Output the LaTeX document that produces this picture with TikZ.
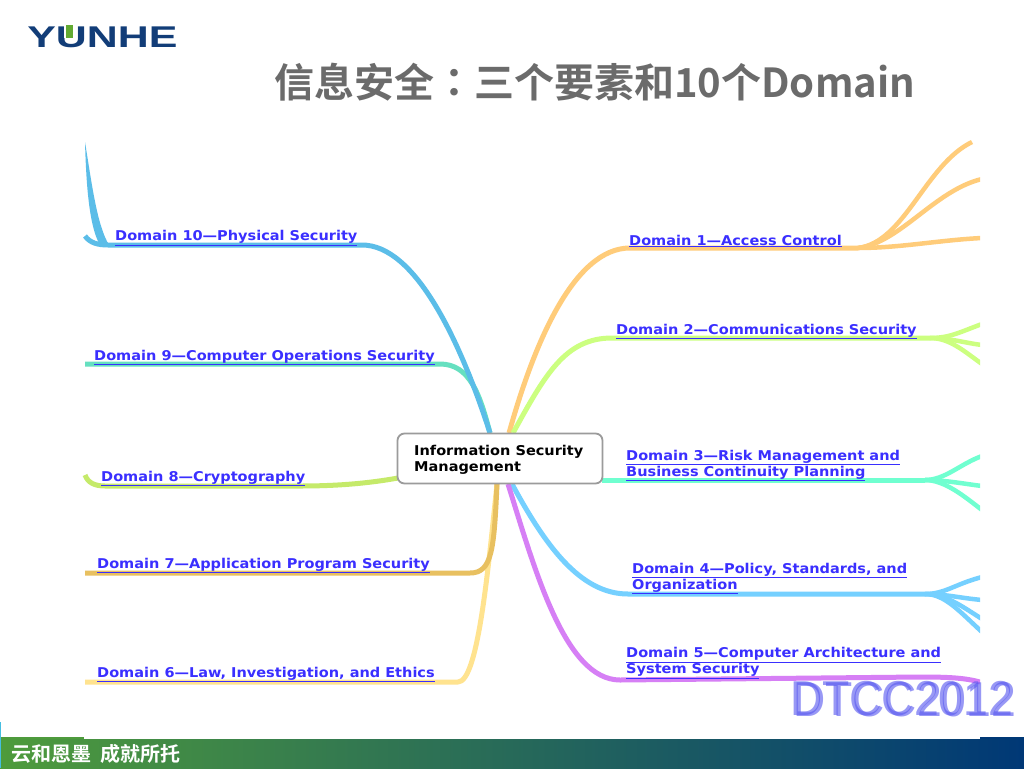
\documentclass[tikz,border=0pt]{standalone}
\usepackage{fontspec}
\setmainfont{DejaVu Sans}
\newfontfamily\cjkb[BoldFont={Noto Sans CJK SC Bold}]{Noto Sans CJK SC}
\newfontfamily\cjkt[BoldFont={Noto Sans CJK TC Bold}]{Noto Sans CJK TC}
\newfontfamily\lsans{Liberation Sans}
\definecolor{cTen}{HTML}{5BBDE8}
\definecolor{cNine}{HTML}{66E0C0}
\definecolor{cEight}{HTML}{C5EA6A}
\definecolor{cSeven}{HTML}{E8C060}
\definecolor{cSix}{HTML}{FFE38F}
\definecolor{cFive}{HTML}{D67FF5}
\definecolor{cFour}{HTML}{75D0FF}
\definecolor{cThree}{HTML}{70FFD0}
\definecolor{cTwo}{HTML}{CCFF80}
\definecolor{cOne}{HTML}{FFCC7A}
\definecolor{lnk}{HTML}{3A2FFF}
\definecolor{dtcc}{HTML}{5A5AF0}
\definecolor{logoblue}{HTML}{123D78}
\definecolor{logogreen}{HTML}{62AA32}
\definecolor{titlegray}{HTML}{6B6B6B}
\definecolor{nodegray}{HTML}{9B9B9B}
\definecolor{barL}{HTML}{4E9B3C}
\definecolor{barM}{HTML}{266E5A}
\definecolor{barR}{HTML}{003876}
\definecolor{stripe}{HTML}{46BEE1}
\newcommand{\dl}[1]{\underline{#1}}
\tikzset{
  branch/.style={line width=5pt,line cap=butt,line join=round},
  twig/.style={line width=4.5pt,line cap=butt},
  lab/.style={anchor=west,inner sep=0pt,text=lnk,font=\fontsize{13.5}{16}\selectfont\bfseries,align=left,xscale=1.075,transform shape},
  dtccmark/.style={anchor=west,inner sep=0pt,text=dtcc,opacity=.62,font=\fontsize{49}{49}\selectfont\lsans,xscale=.91,transform shape},
}
\begin{document}
\begin{tikzpicture}[x=1pt,y=-1pt]
\useasboundingbox (0,0) rectangle (1024,768);
\fill[white] (0,0) rectangle (1024,768);
% logo
\node[anchor=west,inner sep=0pt,text=logoblue,font=\fontsize{30}{30}\selectfont\lsans\bfseries,xscale=1.43,transform shape] (logo) at (27,37) {YUNHE};
\fill[white] (64,24) rectangle (75,38.5);
\fill[logogreen] (65.5,25) rectangle (73,38);
% title
\node[anchor=west,inner sep=0pt,text=titlegray,font=\fontsize{40}{40}\selectfont\cjkb\bfseries] (title) at (274,82) {信息安全{\cjkt\bfseries ：}三个要素和10个Domain};
\coordinate (s10) at (490,433);
\coordinate (s9) at (490,433);
\coordinate (s8) at (398,478);
\coordinate (s7) at (497,484);
\coordinate (s6) at (497,484);
\coordinate (s5) at (508,484);
\coordinate (s4) at (512,484);
\coordinate (s3) at (602,480);
\coordinate (s2) at (513,433);
\coordinate (s1) at (509,433);
\coordinate (e10a) at (85,236);
\coordinate (e10b) at (85,142);
\coordinate (e9) at (85,364);
\coordinate (e8) at (85,475);
\coordinate (e7) at (85,573);
\coordinate (e6) at (85,682);
\coordinate (e5) at (980,682);
\coordinate (f4) at (925,594);
\coordinate (f3) at (925,480);
\coordinate (f2) at (930,338);
\coordinate (f1) at (858,248);
\begin{scope}
\clip (0,0) rectangle (980,768);
% right side
\draw[branch,cOne] (s1) .. controls (535,340) and (575,248) .. (630,248) -- (f1);
\draw[twig,cOne] (f1) .. controls (905,242) and (925,165) .. (972,142);
\draw[twig,cOne] (f1) .. controls (900,243) and (935,190) .. (982,179);
\draw[twig,cOne] (f1) .. controls (900,248) and (940,240) .. (982,238);
\draw[branch,cTwo] (s2) .. controls (545,375) and (565,338) .. (612,338) -- (f2);
\draw[twig,cTwo] (f2) .. controls (950,338) and (960,332) .. (982,324);
\draw[twig,cTwo] (f2) .. controls (950,338) and (965,343) .. (982,345);
\draw[twig,cTwo] (f2) .. controls (950,338) and (965,352) .. (982,364);
\draw[branch,cThree] (s3) .. controls (606,480) and (610,480) .. (622,480) -- (f3);
\draw[twig,cThree] (f3) .. controls (945,480) and (960,464) .. (982,456);
\draw[twig,cThree] (f3) .. controls (945,480) and (965,484) .. (982,486);
\draw[twig,cThree] (f3) .. controls (945,480) and (965,497) .. (982,510);
\draw[branch,cFour] (s4) .. controls (545,545) and (580,594) .. (628,594) -- (f4);
\draw[twig,cFour] (f4) .. controls (945,594) and (955,584) .. (982,577);
\draw[twig,cFour] (f4) .. controls (945,594) and (960,598) .. (982,600);
\draw[twig,cFour] (f4) .. controls (945,594) and (960,605) .. (982,619);
\draw[twig,cFour] (f4) .. controls (945,594) and (960,612) .. (982,632);
\draw[branch,cFive] (s5) .. controls (535,570) and (565,680) .. (620,680) -- (920,677) .. controls (950,677) and (965,678) .. (e5);
% left side
\draw[branch,cNine] (s9) .. controls (480,395) and (470,364) .. (440,364) -- (e9);
\draw[branch,cTen] (s10) .. controls (460,340) and (415,245) .. (362,245) -- (108,245) .. controls (98,245) and (90,243) .. (e10a);
\fill[cTen] (e10b) .. controls (86,175) and (88,225) .. (100,245) -- (109,245) .. controls (97,225) and (92,185) .. (e10b) -- cycle;
\draw[branch,cEight] (s8) .. controls (370,483) and (340,486) .. (300,486) -- (105,486) .. controls (95,486) and (88,483) .. (e8);
\draw[branch,cSix] (s6) .. controls (488,570) and (478,682) .. (458,682) -- (e6);
\draw[branch,cSeven] (s7) .. controls (494,550) and (492,573) .. (470,573) -- (e7);
\end{scope}
% centre
\node[draw=nodegray,line width=1.8pt,fill=white,rounded corners=7pt,minimum width=205pt,minimum height=50pt,inner sep=0pt] (c) at (500,458.5) {};
\node[anchor=west,inner sep=0pt,align=left,font=\fontsize{13.5}{16}\selectfont\bfseries,text=black,xscale=1.075,transform shape] (ct) at (414,460) {Information Security\\Management};
% labels
\node[lab] (d10) at (115,238) {\dl{Domain 10—Physical Security}};
\node[lab] (d9) at (94,357.5) {\dl{Domain 9—Computer Operations Security}};
\node[lab] (d8) at (101,478.5) {\dl{Domain 8—Cryptography}};
\node[lab] (d7) at (97,565.5) {\dl{Domain 7—Application Program Security}};
\node[lab] (d6) at (97,674.5) {\dl{Domain 6—Law, Investigation, and Ethics}};
\node[lab] (d1) at (629,241) {\dl{Domain 1—Access Control}};
\node[lab] (d2) at (616,331.5) {\dl{Domain 2—Communications Security}};
\node[lab] (d3) at (626,465.5) {\dl{Domain 3—Risk Management and}\\\dl{Business Continuity Planning}};
\node[lab] (d4) at (632,578.5) {\dl{Domain 4—Policy, Standards, and}\\\dl{Organization}};
\node[lab] (d5) at (626,663) {\dl{Domain 5—Computer Architecture and}\\\dl{System Security}};
% watermark
\node[dtccmark] (w1) at (790,699) {DTCC2012};
\node[dtccmark] (w2) at (793,700) {DTCC2012};
% footer
\shade[left color=barL,middle color=barM,right color=barR] (0,739) rectangle (1024,768);
\fill[barL] (1,737) rectangle (84,739);
\fill[barR] (980,737) rectangle (1024,739);
\fill[stripe] (0,722) rectangle (1,768);
\node[anchor=west,inner sep=0pt,text=white,font=\fontsize{20}{20}\selectfont\cjkb\bfseries] (foot) at (11,754) {云和恩墨\hspace{9pt}成就所托};
\end{tikzpicture}
\end{document}
